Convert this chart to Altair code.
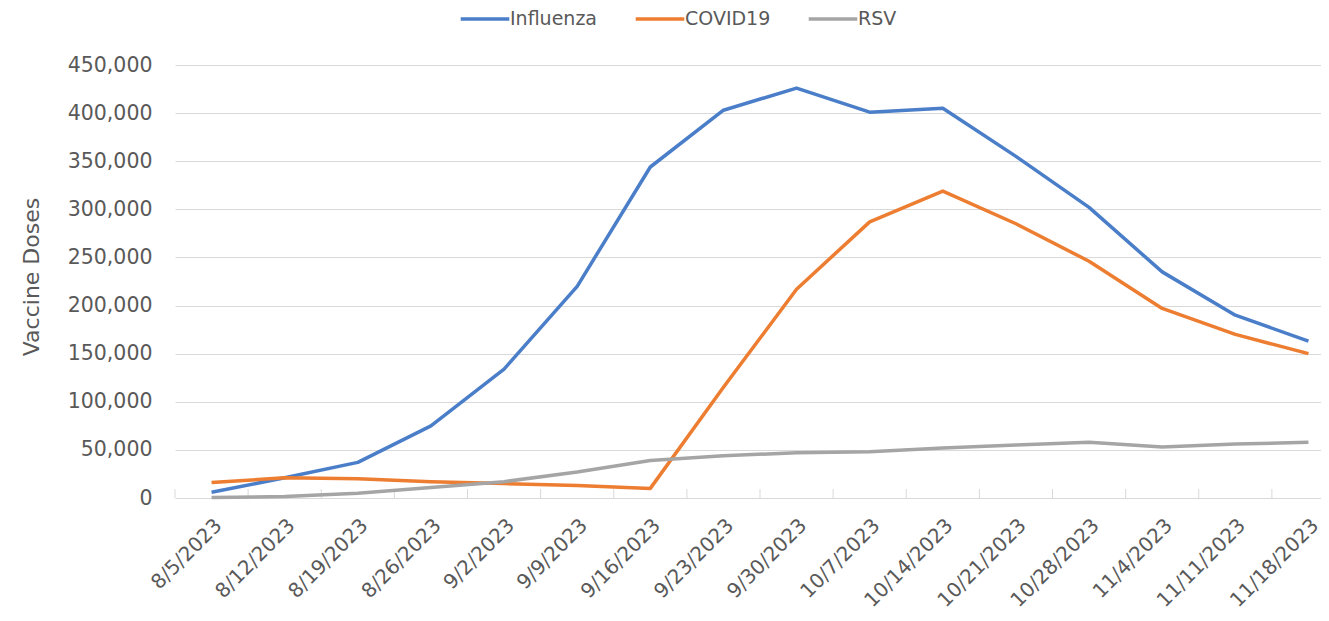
import altair as alt
import pandas as pd

dates = ["8/5/2023", "8/12/2023", "8/19/2023", "8/26/2023", "9/2/2023", "9/9/2023",
         "9/16/2023", "9/23/2023", "9/30/2023", "10/7/2023", "10/14/2023", "10/21/2023",
         "10/28/2023", "11/4/2023", "11/11/2023", "11/18/2023"]
influenza = [6000, 21000, 37000, 75000, 134000, 220000, 344000, 403000,
             426000, 401000, 405000, 355000, 302000, 235000, 190000, 163000]
covid19 = [16000, 21000, 20000, 17000, 15000, 13000, 10000, 115000,
           217000, 287000, 319000, 285000, 246000, 197000, 170000, 150000]
rsv = [500, 1500, 5000, 11000, 17000, 27000, 39000, 44000,
       47000, 48000, 52000, 55000, 58000, 53000, 56000, 58000]
series_names = ["Influenza", "COVID19", "RSV"]
series_colors = ["#4A7EC8", "#ED7D31", "#A5A5A5"]
y_ticks = [0, 50000, 100000, 150000, 200000, 250000, 300000, 350000, 400000, 450000]

rows = []
for name, vals in zip(series_names, [influenza, covid19, rsv]):
    for d, v in zip(dates, vals):
        rows.append({"Week": d, "Series": name, "Doses": v})
df = pd.DataFrame(rows)
ticks_df = pd.DataFrame({"Week": dates})

FONT = "DejaVu Sans"
TXT = "#595959"
W, H = 1146, 433
PAD_L, PAD_T = 167, 57

xscale = alt.Scale(type="band", domain=dates, range=[0, 1170], paddingInner=0, paddingOuter=0)
xaxis = alt.Axis(title=None, labelAngle=-45, labelAlign="right", labelBaseline="top",
                 labelFontSize=20, labelFont=FONT, labelColor=TXT, labelPadding=17,
                 labelOverlap=False, domain=False, ticks=False, grid=False)

lines = alt.Chart(df).mark_line(strokeWidth=3.5, strokeJoin="round").encode(
    x=alt.X("Week:O", scale=xscale, bandPosition=0.5, axis=xaxis),
    y=alt.Y("Doses:Q", scale=alt.Scale(domain=[0, 450000], nice=False),
            axis=alt.Axis(values=y_ticks, format=",.0f", title="Vaccine Doses",
                          titleFontSize=22, titleFont=FONT, titleColor=TXT, titleFontWeight="normal",
                          titlePadding=24, titleY=H / 2 - 5,
                          labelFontSize=20.5, labelFont=FONT, labelColor=TXT,
                          labelPadding=23, domain=False, ticks=False,
                          gridColor="#D9D9D9", gridWidth=1)),
    color=alt.Color("Series:N", sort=series_names,
                    scale=alt.Scale(domain=series_names, range=series_colors),
                    legend=alt.Legend(title=None, orient="none", direction="horizontal",
                                      legendX=299, legendY=-57, labelFontSize=19, labelFont=FONT,
                                      labelColor=TXT, symbolStrokeWidth=3.5, symbolSize=324,
                                      symbolType="M-2.7,0H2.7", labelOffset=14,
                                      columnPadding=30)),
)

tick_rules = alt.Chart(ticks_df).mark_rule(color="#D9D9D9", strokeWidth=1).encode(
    x=alt.X("Week:O", scale=xscale, bandPosition=0, axis=xaxis),
    y=alt.value(H - 9),
    y2=alt.value(H),
)

chart = alt.layer(tick_rules, lines).properties(
    width=W, height=H,
    autosize=alt.AutoSizeParams(type="none"),
    padding={"left": PAD_L, "top": PAD_T, "right": 0, "bottom": 605 - PAD_T - H},
    background="white",
).configure_view(stroke=None)

chart.save("out.html", embed_options={"renderer": "svg", "actions": False})
